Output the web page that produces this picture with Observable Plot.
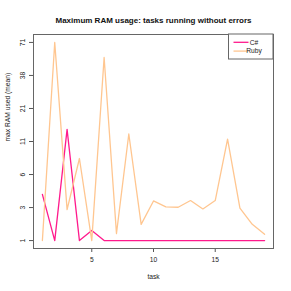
<!DOCTYPE html>
<html>
<head>
<meta charset="utf-8">
<script src="https://cdn.jsdelivr.net/npm/d3@7"></script>
<script src="https://cdn.jsdelivr.net/npm/@observablehq/plot@0.6"></script>
<style>
  html, body { margin: 0; padding: 0; background: #fff; }
  svg { font-family: "Liberation Sans", Arial, Helvetica, sans-serif; }
</style>
</head>
<body>
<div id="chart"></div>
<script>
const title = "Maximum RAM usage: tasks running without errors";
const xLabel = "task";
const yLabel = "max RAM used (mean)";
const seriesNames = ["C#", "Ruby"];
const seriesColors = ["#ff1a8c", "#ffc690"];
const tasks = [1, 2, 3, 4, 5, 6, 7, 8, 9, 10, 11, 12, 13, 14, 15, 16, 17, 18, 19];
const csharp = [3.6, 1, 13.9, 1, 1.4, 1, 1, 1, 1, 1, 1, 1, 1, 1, 1, 1, 1, 1, 1];
const ruby = [1, 70.6, 2.5, 7.8, 1, 53.6, 1.27, 12.7, 1.68, 3.09, 2.67, 2.65, 3.12, 2.54, 3.12, 11.5, 2.6, 1.68, 1.24];
const xTicks = [5, 10, 15];
const yTickLabels = ["1", "3", "6", "11", "21", "38", "71"];

const data = [];
tasks.forEach((t, i) => {
  data.push({task: t, value: csharp[i], lang: seriesNames[0]});
  data.push({task: t, value: ruby[i], lang: seriesNames[1]});
});

const all = csharp.concat(ruby);
const lo = Math.log1p(d3.min(all)), hi = Math.log1p(d3.max(all));
const pad = 0.04 * (hi - lo);
const yDomain = [Math.expm1(lo - pad), Math.expm1(hi + pad)];
const yTicks = yTickLabels.map((_, i) => Math.expm1(lo + i * (hi - lo) / (yTickLabels.length - 1)));
const xMin = d3.min(tasks), xMax = d3.max(tasks);
const xpad = 0.04 * (xMax - xMin);

const fs = 6.7;
const plot = Plot.plot({
  width: 291,
  height: 291,
  marginLeft: 33,
  marginRight: 18,
  marginTop: 34,
  marginBottom: 43,
  style: {fontFamily: "Liberation Sans, Arial, sans-serif", fontSize: fs + "px", color: "#222", background: "#fff"},
  x: {domain: [xMin - xpad, xMax + xpad]},
  y: {type: "symlog", constant: 1, domain: yDomain},
  color: {domain: seriesNames, range: seriesColors},
  marks: [
    Plot.axisX({ticks: xTicks, tickSize: 4, tickPadding: 5, label: null, stroke: "#555", fontSize: fs}),
    Plot.axisY({ticks: yTicks, tickFormat: (d, i) => yTickLabels[i], tickSize: 4, tickPadding: 5, tickRotate: -90, label: null, stroke: "#555", fontSize: fs}),
    Plot.line(data, {x: "task", y: "value", z: "lang", stroke: "lang", strokeWidth: 1.3}),
    Plot.frame({stroke: "#666"}),
    Plot.text([title], {frameAnchor: "top", dy: -17, fontWeight: "bold", fontSize: 8, fill: "#111"}),
    Plot.text([xLabel], {frameAnchor: "bottom", dy: 30, fontSize: fs, fill: "#222"}),
    Plot.text([yLabel], {frameAnchor: "left", dx: -26, rotate: -90, fontSize: fs, fill: "#222"})
  ]
});
document.getElementById("chart").appendChild(plot);

// legend (top-right inside the frame)
const svg = d3.select(plot);
const lx = 228.5, ly = 34, lw = 44.5, lh = 25;
const g = svg.append("g");
g.append("rect").attr("x", lx).attr("y", ly).attr("width", lw).attr("height", lh)
  .attr("fill", "#fff").attr("stroke", "#666").attr("stroke-width", 1);
seriesNames.forEach((name, i) => {
  const y = ly + 8.3 + i * 8.8;
  g.append("line").attr("x1", lx + 5).attr("x2", lx + 20).attr("y1", y).attr("y2", y)
    .attr("stroke", seriesColors[i]).attr("stroke-width", 1.3);
  g.append("text").attr("x", lx + 25.5).attr("y", y).attr("dy", "0.35em")
    .attr("font-size", fs).attr("fill", "#222").text(name);
});
</script>
</body>
</html>
